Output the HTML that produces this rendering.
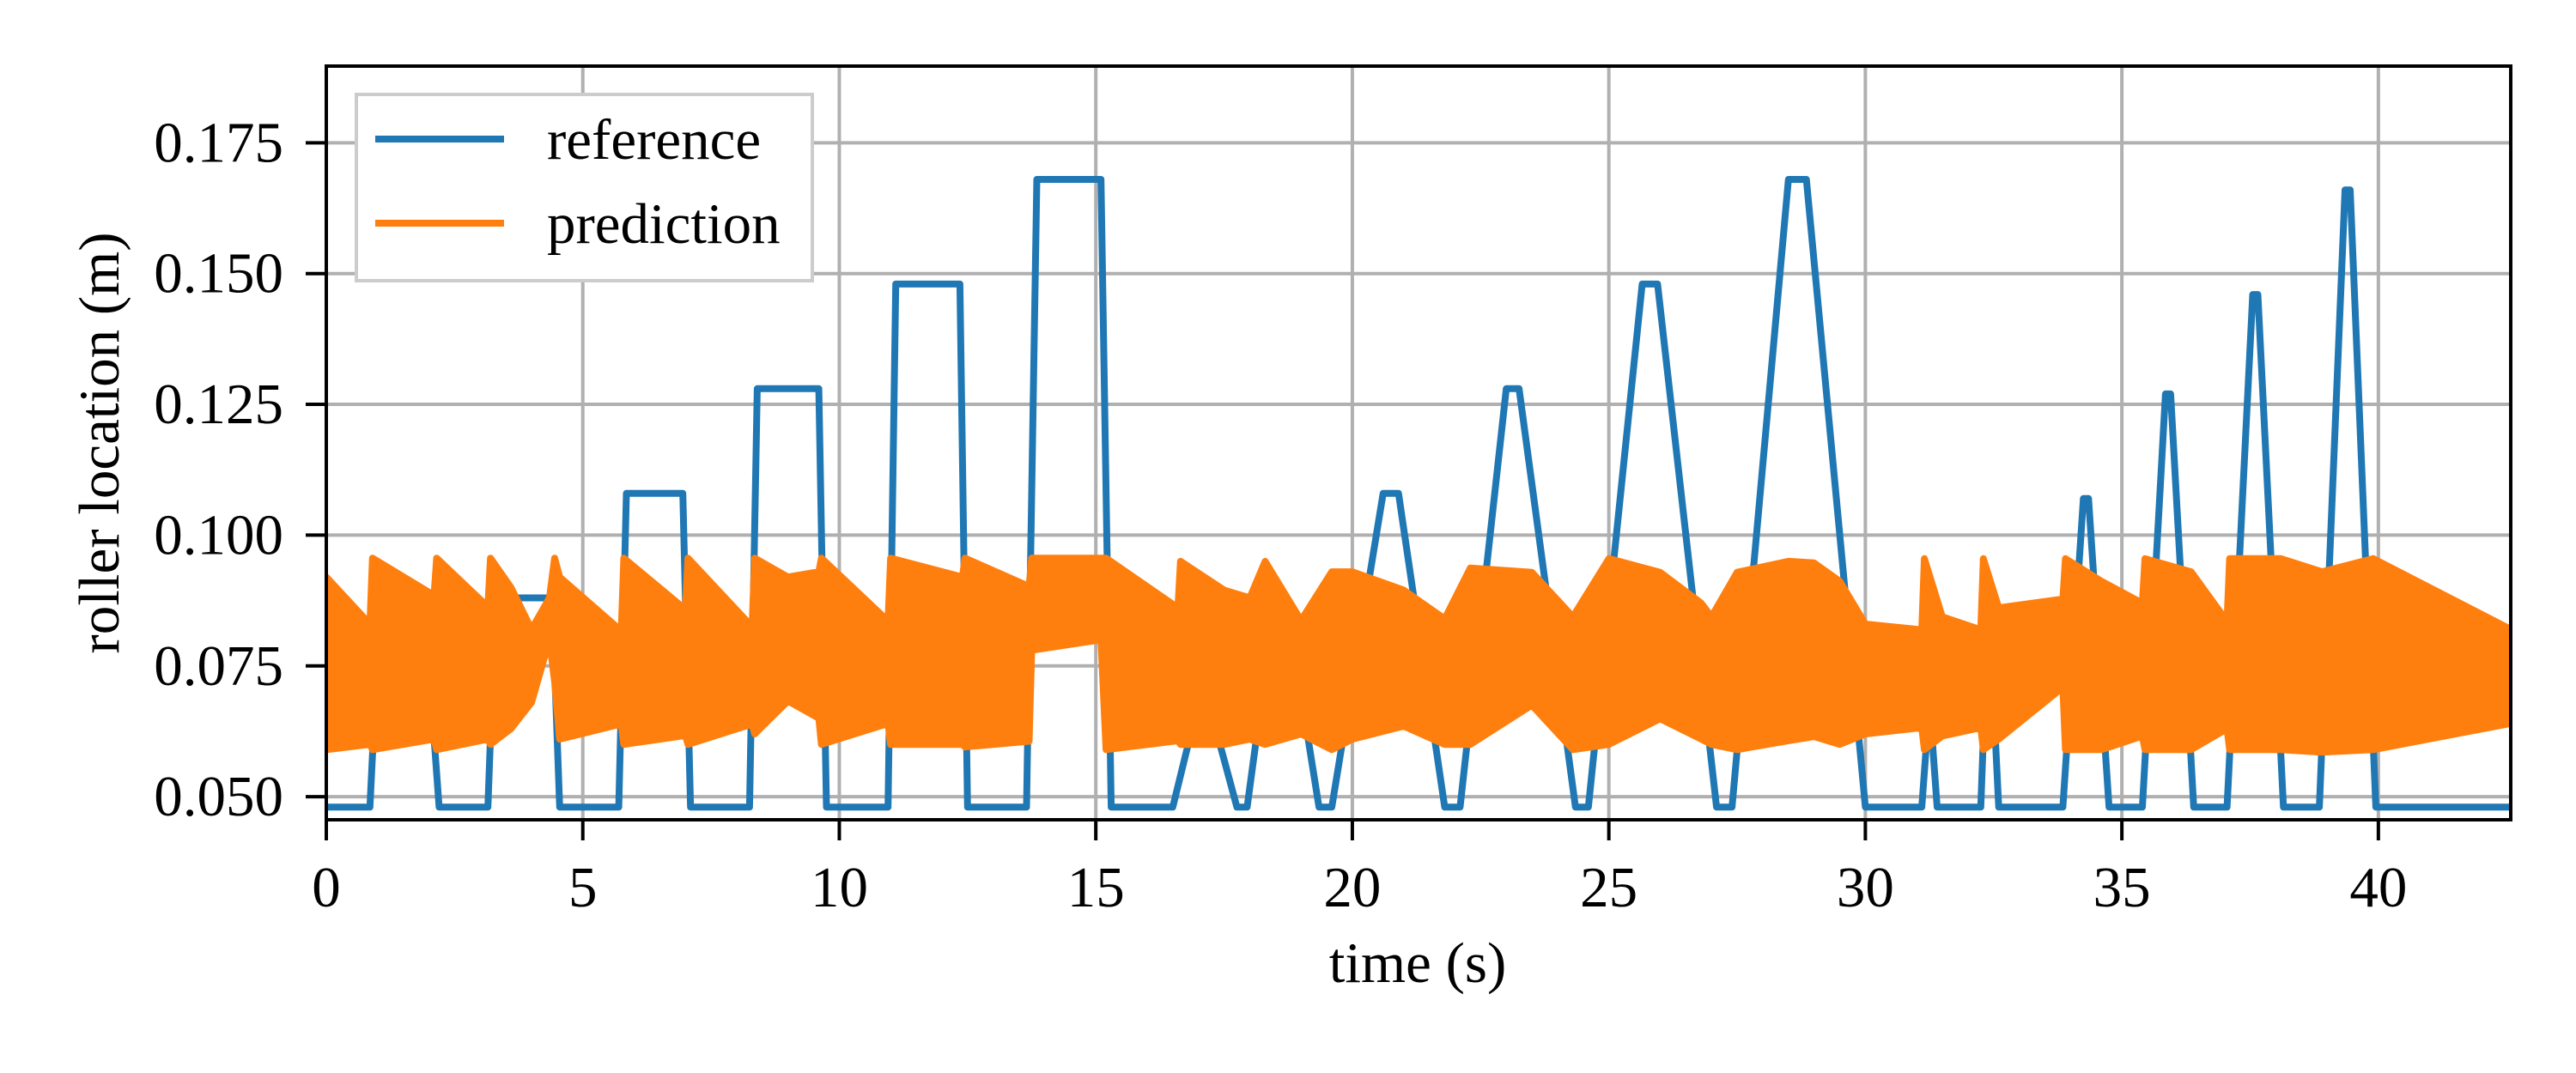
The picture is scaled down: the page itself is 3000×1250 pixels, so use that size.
<!DOCTYPE html>
<html>
<head>
<meta charset="utf-8">
<style>
  html, body { margin:0; padding:0; background:#fff; }
  svg { display:block; }
  text { font-family: "Liberation Serif", "DejaVu Serif", serif; fill:#000; }
</style>
</head>
<body>
<svg id="chart" width="3000" height="1250" viewBox="0 0 3000 1250" xmlns="http://www.w3.org/2000/svg">
  <rect x="0" y="0" width="3000" height="1250" fill="#fff"/>
  <g id="grid"></g>
  <g id="plot"></g>
  <g id="axes"></g>
  <text x="1651" y="1144" font-size="67" text-anchor="middle">time (s)</text>
  <text transform="translate(116,516) rotate(-90)" x="0" y="0" font-size="67" text-anchor="middle" dominant-baseline="central">roller location (m)</text>
  <g>
    <rect x="415" y="110" width="531" height="217" fill="#fff" stroke="#cccccc" stroke-width="4"/>
    <line x1="437" y1="162" x2="587" y2="162" stroke="#1f77b4" stroke-width="8"/>
    <text x="637" y="185" font-size="67">reference</text>
    <line x1="437" y1="260" x2="587" y2="260" stroke="#ff7f0e" stroke-width="8"/>
    <text x="637" y="283" font-size="67">prediction</text>
  </g>
</svg>
<script>
const xTicks = [0, 5, 10, 15, 20, 25, 30, 35, 40];
const xTickLabels = ["0", "5", "10", "15", "20", "25", "30", "35", "40"];
const yTicks = [0.050, 0.075, 0.100, 0.125, 0.150, 0.175];
const yTickLabels = ["0.050", "0.075", "0.100", "0.125", "0.150", "0.175"];

const refTimes = [0,0.85,0.95,2.05,2.2,3.15,3.3,4.4,4.55,5.7,5.85,6.95,7.1,8.25,8.4,9.6,9.75,10.95,11.1,12.35,12.5,13.65,13.85,15.1,15.3,16.5,17.0,17.2,17.75,17.95,18.5,18.7,19.35,19.6,20.6,20.9,21.8,22.1,23.0,23.25,24.35,24.6,25.65,25.95,27.1,27.4,28.5,28.85,30.0,31.1,31.25,31.4,32.25,32.4,32.6,33.85,34.25,34.35,34.75,35.4,35.85,35.95,36.4,37.05,37.55,37.65,38.15,38.85,39.35,39.45,39.95,42.58];
const refValues = [0.048,0.048,0.068,0.068,0.048,0.048,0.088,0.088,0.048,0.048,0.108,0.108,0.048,0.048,0.128,0.128,0.048,0.048,0.148,0.148,0.048,0.048,0.168,0.168,0.048,0.048,0.068,0.068,0.048,0.048,0.088,0.088,0.048,0.048,0.108,0.108,0.048,0.048,0.128,0.128,0.048,0.048,0.148,0.148,0.048,0.048,0.168,0.168,0.048,0.048,0.068,0.048,0.048,0.088,0.048,0.048,0.107,0.107,0.048,0.048,0.127,0.127,0.048,0.048,0.146,0.146,0.048,0.048,0.166,0.166,0.048,0.048];

const predTimes = [0,0.85,0.9,2.1,2.15,3.15,3.2,3.6,4.0,4.35,4.45,4.55,5.75,5.8,7.0,7.05,8.3,8.35,9.0,9.6,9.65,10.95,11.0,12.4,12.45,13.7,13.75,15.1,15.2,16.6,16.65,17.5,18.0,18.3,19.0,19.6,20.0,21.0,21.8,22.3,23.5,24.3,25.0,26.0,26.8,27.0,27.5,28.5,29.0,29.5,30.0,31.1,31.15,31.5,32.25,32.3,32.6,33.85,33.9,34.6,35.4,35.45,36.35,37.05,37.1,38.1,38.9,39.9,42.58];
const predUpper = [0.092,0.083,0.0956,0.0885,0.0956,0.0863,0.0956,0.090,0.082,0.088,0.0956,0.092,0.0817,0.0956,0.0858,0.0956,0.0825,0.0956,0.092,0.093,0.0956,0.0836,0.0956,0.092,0.0956,0.0902,0.0956,0.0956,0.0956,0.0861,0.095,0.0895,0.088,0.095,0.0837,0.093,0.093,0.0895,0.084,0.0937,0.0929,0.0844,0.0955,0.0929,0.087,0.0844,0.0929,0.095,0.0947,0.0912,0.083,0.0819,0.0955,0.0844,0.0819,0.0955,0.0861,0.0878,0.0955,0.0912,0.087,0.0955,0.093,0.0835,0.0955,0.0955,0.093,0.0955,0.082];
const predLower = [0.059,0.060,0.059,0.061,0.059,0.061,0.060,0.063,0.068,0.080,0.072,0.061,0.0639,0.060,0.0617,0.060,0.0639,0.062,0.0683,0.065,0.060,0.064,0.060,0.060,0.0595,0.0606,0.078,0.080,0.059,0.0607,0.060,0.060,0.061,0.060,0.062,0.059,0.061,0.0635,0.060,0.060,0.0675,0.059,0.060,0.0649,0.061,0.060,0.059,0.0607,0.0615,0.060,0.062,0.0632,0.059,0.0616,0.0632,0.059,0.061,0.0709,0.059,0.059,0.0616,0.059,0.059,0.063,0.059,0.059,0.0585,0.059,0.064];

const X0 = 380, X1 = 2924, Y0 = 77, Y1 = 955;
const tMin = 0, tMax = 42.58, vMin = 0.04559, vMax = 0.18966;
function xs(t) { return X0 + (t - tMin) / (tMax - tMin) * (X1 - X0); }
function ys(v) { return Y1 - (v - vMin) / (vMax - vMin) * (Y1 - Y0); }

const NS = "http://www.w3.org/2000/svg";
const grid = document.getElementById("grid");
const plot = document.getElementById("plot");
const axes = document.getElementById("axes");

function mk(tag, attrs, parent) {
  const el = document.createElementNS(NS, tag);
  for (const k in attrs) el.setAttribute(k, attrs[k]);
  parent.appendChild(el);
  return el;
}

xTicks.forEach((t, i) => {
  const gx = mk("line", {x1: xs(t), y1: Y0, x2: xs(t), y2: Y1, stroke: "#b0b0b0", "stroke-width": 4}, grid);
  
  
  const tk = mk("line", {x1: xs(t), y1: Y1, x2: xs(t), y2: Y1 + 24, stroke: "#000", "stroke-width": 4}, axes);
  
  
  const lb = mk("text", {x: xs(t), y: 1056, "font-size": 67, "text-anchor": "middle"}, axes);
  lb.textContent = xTickLabels[i];
  
  
});
yTicks.forEach((v, i) => {
  const gy = mk("line", {x1: X0, y1: ys(v), x2: X1, y2: ys(v), stroke: "#b0b0b0", "stroke-width": 4}, grid);
  
  
  const tk = mk("line", {x1: X0 - 24, y1: ys(v), x2: X0, y2: ys(v), stroke: "#000", "stroke-width": 4}, axes);
  
  
  const lb = mk("text", {x: 330, y: ys(v) + 22, "font-size": 67, "text-anchor": "end"}, axes);
  lb.textContent = yTickLabels[i];
  
  
});

const defs = mk("defs", {}, plot);
const cp = mk("clipPath", {id: "clipArea"}, defs);
mk("rect", {x: X0, y: Y0, width: X1 - X0, height: Y1 - Y0}, cp);

const refPts = refTimes.map((t, i) => xs(t).toFixed(1) + "," + ys(refValues[i]).toFixed(1)).join(" ");
const refLine = mk("polyline", {points: refPts, fill: "none", stroke: "#1f77b4", "stroke-width": 8, "stroke-linejoin": "round", "stroke-linecap": "round", "clip-path": "url(#clipArea)"}, plot);



const up = predTimes.map((t, i) => xs(t).toFixed(1) + "," + ys(predUpper[i]).toFixed(1));
const lo = predTimes.map((t, i) => xs(t).toFixed(1) + "," + ys(predLower[i]).toFixed(1)).reverse();
const predBand = mk("polygon", {points: up.concat(lo).join(" "), fill: "#ff7f0e", stroke: "#ff7f0e", "stroke-width": 8, "stroke-linejoin": "round", "clip-path": "url(#clipArea)"}, plot);



const frame = mk("rect", {x: X0, y: Y0, width: X1 - X0, height: Y1 - Y0, fill: "none", stroke: "#000", "stroke-width": 4}, axes);


</script>
</body>
</html>
